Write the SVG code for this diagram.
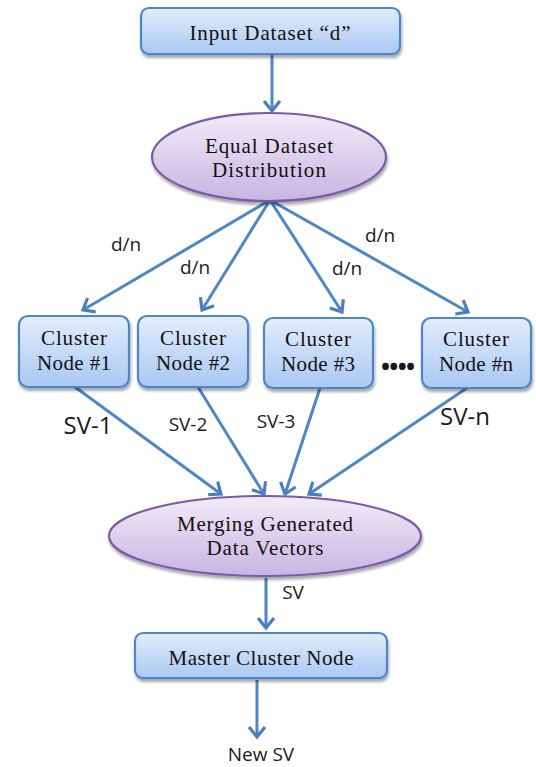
<svg xmlns="http://www.w3.org/2000/svg" width="536" height="767" viewBox="0 0 536 767">
<defs>
<linearGradient id="gBox" x1="0" y1="0" x2="0" y2="1">
<stop offset="0" stop-color="#e3edfc"/>
<stop offset="1" stop-color="#a9c8f3"/>
</linearGradient>
<linearGradient id="gEll" x1="0" y1="0" x2="0" y2="1">
<stop offset="0" stop-color="#f1ecf8"/>
<stop offset="1" stop-color="#c8b4e2"/>
</linearGradient>
<filter id="sh" x="-10%" y="-10%" width="125%" height="140%">
<feGaussianBlur in="SourceAlpha" stdDeviation="1.5"/>
<feOffset dx="1" dy="3" result="b"/>
<feComponentTransfer><feFuncA type="linear" slope="0.35"/></feComponentTransfer>
<feMerge><feMergeNode/><feMergeNode in="SourceGraphic"/></feMerge>
</filter>
<marker id="ah" markerUnits="userSpaceOnUse" markerWidth="24" markerHeight="24" viewBox="-12 -12 24 24" refX="0" refY="0" orient="auto">
<path d="M-10,-8 L0,0 L-10,8" fill="none" stroke="#4a7ebf" stroke-width="3.2" stroke-linejoin="miter"/>
</marker>
<style>
.box{fill:url(#gBox);stroke:#4f86c6;stroke-width:2.2;filter:url(#sh)}
.ell{fill:url(#gEll);stroke:#7b5aa6;stroke-width:2.2;filter:url(#sh)}
.t{font-family:"Liberation Serif","DejaVu Serif",serif;font-size:21px;fill:#111;text-anchor:middle}
.l{font-family:"Open Sans","Liberation Sans",sans-serif;font-size:19px;fill:#1a1a1a;text-anchor:middle}
.lb{font-family:"Open Sans","Liberation Sans",sans-serif;font-size:24px;fill:#1a1a1a;text-anchor:middle}
.c{stroke:#4f86c6;stroke-width:3;fill:none;marker-end:url(#ah)}
</style>
</defs>
<g id="connectors">
<line class="c" x1="272" y1="55" x2="272" y2="111"/>
<line class="c" x1="270" y1="200" x2="83" y2="310"/>
<line class="c" x1="270" y1="200" x2="202" y2="310"/>
<line class="c" x1="270" y1="200" x2="342" y2="312"/>
<line class="c" x1="270" y1="200" x2="468" y2="312"/>
<line class="c" x1="75" y1="387" x2="221" y2="494"/>
<line class="c" x1="198" y1="387" x2="264" y2="494"/>
<line class="c" x1="320" y1="388" x2="285" y2="494"/>
<line class="c" x1="467" y1="388" x2="309" y2="494"/>
<line class="c" x1="266" y1="578" x2="266" y2="628"/>
<line class="c" x1="257" y1="680" x2="257" y2="737"/>
<text class="l" x="126" y="251">d/n</text>
<text class="l" x="195" y="274">d/n</text>
<text class="l" x="347" y="275">d/n</text>
<text class="l" x="380" y="242">d/n</text>
<text class="lb" x="88" y="434">SV-1</text>
<text class="l" x="188" y="431">SV-2</text>
<text class="l" x="276" y="428">SV-3</text>
<text class="lb" x="465" y="425">SV-n</text>
<text class="l" x="293" y="599">SV</text>
<text class="l" x="261" y="761">New SV</text>
<text class="lb" x="398" y="375" textLength="34" style="font-weight:bold">••••</text>
</g>
<g id="input">
<rect class="box" x="141" y="8" width="259" height="46" rx="8"/>
<text class="t" x="270" y="40" textLength="161">Input Dataset “d”</text>
</g>
<g id="distribution">
<ellipse class="ell" cx="269" cy="157" rx="117" ry="44"/>
<text class="t" x="269" y="153" textLength="128">Equal Dataset</text>
<text class="t" x="269" y="177" textLength="114">Distribution</text>
</g>
<g id="cluster1">
<rect class="box" x="19" y="316" width="110" height="71" rx="9"/>
<text class="t" x="74" y="345" textLength="66">Cluster</text>
<text class="t" x="74" y="370" textLength="74">Node #1</text>
</g>
<g id="cluster2">
<rect class="box" x="138" y="316" width="110" height="71" rx="9"/>
<text class="t" x="193" y="345" textLength="66">Cluster</text>
<text class="t" x="193" y="370" textLength="74">Node #2</text>
</g>
<g id="cluster3">
<rect class="box" x="264" y="318" width="109" height="70" rx="9"/>
<text class="t" x="318" y="346" textLength="66">Cluster</text>
<text class="t" x="318" y="371" textLength="74">Node #3</text>
</g>
<g id="clustern">
<rect class="box" x="422" y="318" width="109" height="70" rx="9"/>
<text class="t" x="476" y="346" textLength="66">Cluster</text>
<text class="t" x="476" y="371" textLength="74">Node #n</text>
</g>
<g id="merging">
<ellipse class="ell" cx="265" cy="536" rx="156" ry="40"/>
<text class="t" x="265" y="531" textLength="176">Merging Generated</text>
<text class="t" x="265" y="555" textLength="117">Data Vectors</text>
</g>
<g id="master">
<rect class="box" x="135" y="633" width="252" height="45" rx="8"/>
<text class="t" x="261" y="665" textLength="185">Master Cluster Node</text>
</g>
</svg>
